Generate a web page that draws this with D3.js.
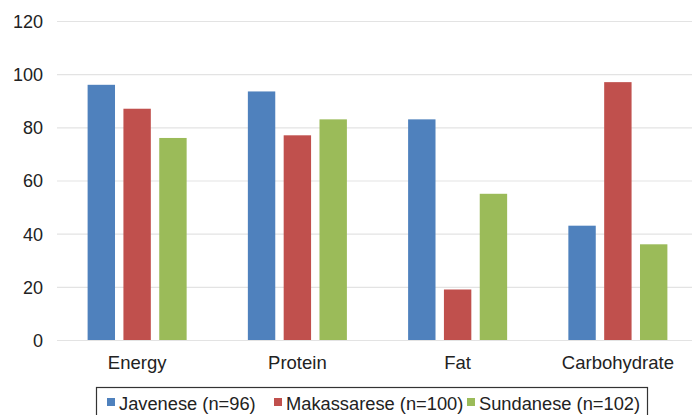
<!DOCTYPE html>
<html>
<head>
<meta charset="utf-8">
<script src="https://cdn.jsdelivr.net/npm/d3@7"></script>
<style>
  html, body { margin: 0; padding: 0; background: #fff; }
  svg { display: block; font-family: "Liberation Sans", Arial, Helvetica, sans-serif; }
</style>
</head>
<body>
<svg id="chart" width="692" height="415"></svg>
<script>
const categories = ["Energy", "Protein", "Fat", "Carbohydrate"];
const seriesNames = ["Javenese (n=96)", "Makassarese (n=100)", "Sundanese (n=102)"];
const javenese = [96, 93.5, 83, 43];
const makassarese = [87, 77, 19, 97];
const sundanese = [76, 83, 55, 36];
const yTicks = [0, 20, 40, 60, 80, 100, 120];
const colors = ["#4F81BD", "#C0504D", "#9BBB59"];

const seriesValues = [javenese, makassarese, sundanese];
const svg = d3.select("#chart");
const W = 692;
const FONT = '"Liberation Sans", Arial, sans-serif';

const y = d3.scaleLinear().domain([0, 120]).range([340, 21]);
const x0 = d3.scaleBand().domain(categories).range([57, 698]).paddingInner(0.382).paddingOuter(0.191);
const x1 = d3.scaleBand().domain(d3.range(3)).range([0, x0.bandwidth()]).paddingInner(0.235).paddingOuter(0);

// gridlines
svg.append("g").selectAll("line").data(yTicks).join("line")
  .attr("x1", 57).attr("x2", W)
  .attr("y1", d => y(d) + 0.5).attr("y2", d => y(d) + 0.5)
  .attr("stroke", "#e3e3e3").attr("stroke-width", 1.2);

// y labels
const yAxis = d3.axisLeft(y).tickValues(yTicks).tickSize(0).tickPadding(0);
const yg = svg.append("g").attr("transform", "translate(43,0)").call(yAxis);
yg.select(".domain").remove();
yg.selectAll("text").attr("font-size", 18).attr("fill", "#222").attr("dy", "0.36em")
  .style("font-family", FONT);

// bars
const groups = svg.append("g").selectAll("g").data(categories).join("g")
  .attr("transform", d => `translate(${x0(d)},0)`);
groups.selectAll("rect")
  .data((c, ci) => seriesValues.map((vals, si) => ({ si, v: vals[ci] })))
  .join("rect")
  .attr("x", d => x1(d.si))
  .attr("width", x1.bandwidth())
  .attr("y", d => y(d.v))
  .attr("height", d => y(0) - y(d.v))
  .attr("fill", d => colors[d.si]);

// x labels
const xAxis = d3.axisBottom(x0).tickSize(0).tickPadding(0);
const xg = svg.append("g").attr("transform", "translate(0,356)").call(xAxis);
xg.select(".domain").remove();
xg.selectAll("text").attr("font-size", 18.5).attr("fill", "#222").attr("y", 0).attr("dy", "13px")
  .style("font-family", FONT);

// legend
const leg = svg.append("g");
leg.append("rect").attr("x", 96.5).attr("y", 387.5).attr("width", 551).attr("height", 40)
  .attr("fill", "#fff").attr("stroke", "#333").attr("stroke-width", 1.2);
const legX = [107, 274, 467];
seriesNames.forEach((name, i) => {
  leg.append("rect").attr("x", legX[i]).attr("y", 398).attr("width", 8).attr("height", 8).attr("fill", colors[i]);
  leg.append("text").attr("x", legX[i] + 12).attr("y", 410).attr("font-size", 18.3)
    .attr("fill", "#222").style("font-family", FONT).text(name);
});
</script>
</body>
</html>
